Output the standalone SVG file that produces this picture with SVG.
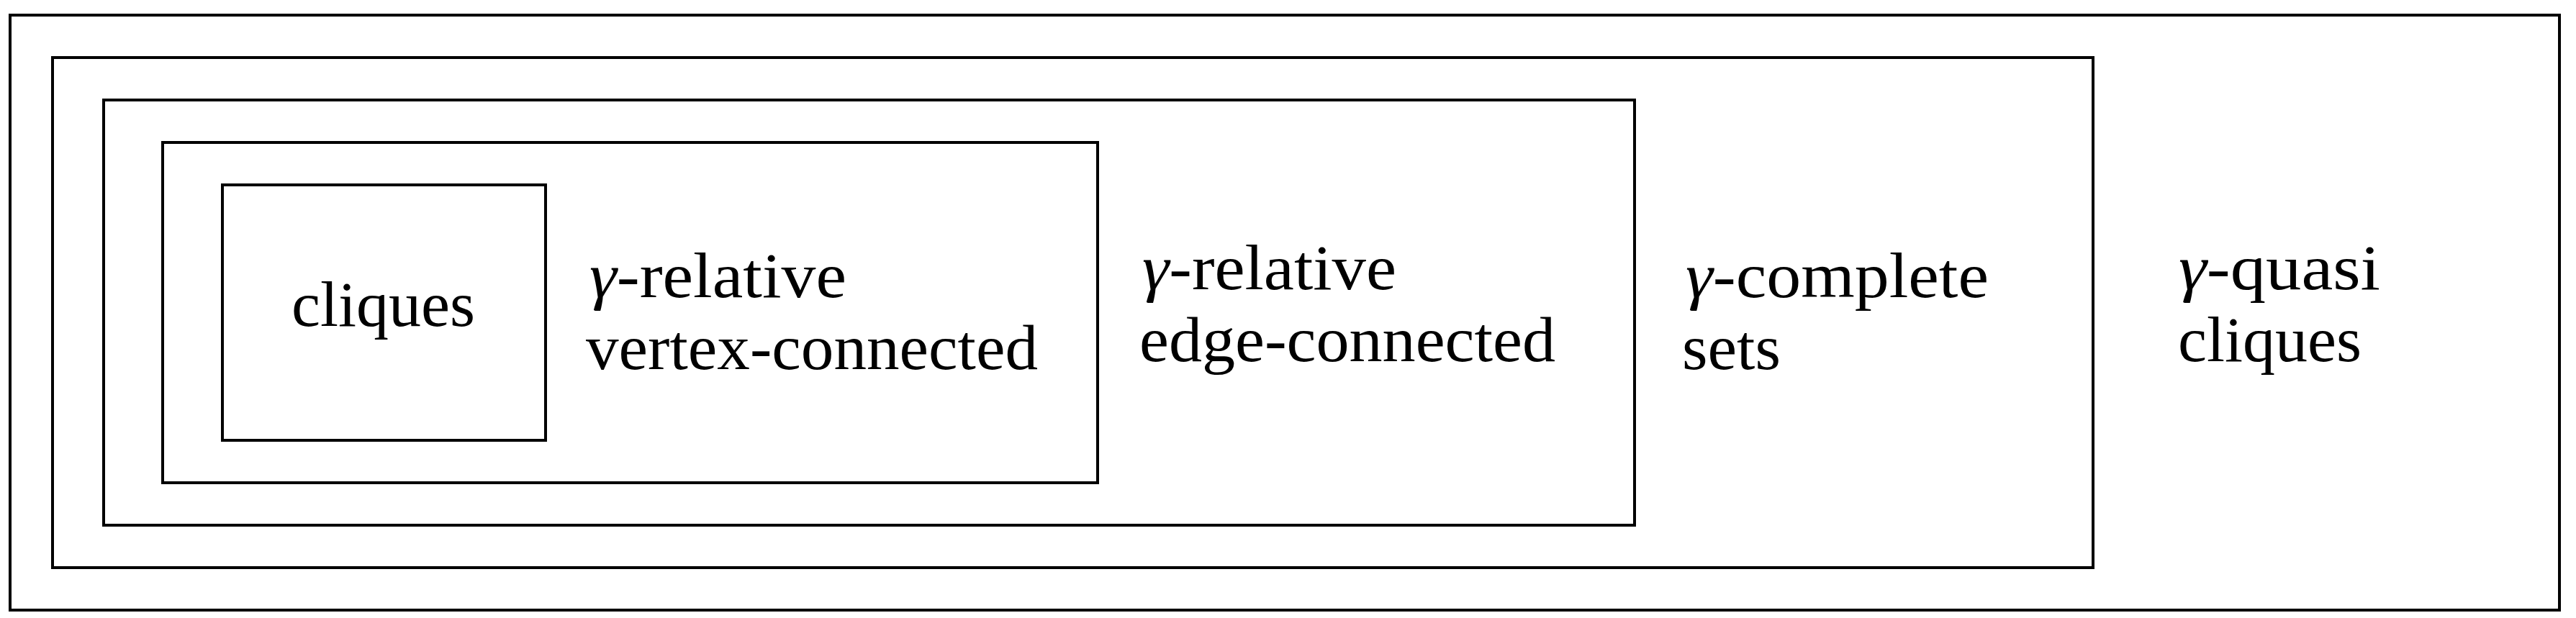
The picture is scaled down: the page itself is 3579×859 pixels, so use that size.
<svg xmlns="http://www.w3.org/2000/svg" width="3579" height="859" viewBox="0 0 3579 859">
<style>
.box{fill:none;stroke:#000;stroke-width:4}
.lbl{font-family:"Liberation Serif","Times New Roman",serif;font-size:88px;fill:#000}
.g{font-style:italic}
</style>
<rect width="3579" height="859" fill="#fff"/>
<g id="quasi-cliques">
<rect class="box" x="14" y="21" width="3542" height="827"/>
<text class="lbl" x="3027" y="402" textLength="280" lengthAdjust="spacingAndGlyphs"><tspan class="g">γ</tspan>-quasi</text>
<text class="lbl" x="3026" y="502" textLength="255" lengthAdjust="spacingAndGlyphs">cliques</text>
</g>
<g id="complete-sets">
<rect class="box" x="73" y="80" width="2835" height="709"/>
<text class="lbl" x="2342" y="413" textLength="421" lengthAdjust="spacingAndGlyphs"><tspan class="g">γ</tspan>-complete</text>
<text class="lbl" x="2337" y="513" textLength="137" lengthAdjust="spacingAndGlyphs">sets</text>
</g>
<g id="edge-connected">
<rect class="box" x="144" y="139" width="2127" height="591"/>
<text class="lbl" x="1587" y="402" textLength="353" lengthAdjust="spacingAndGlyphs"><tspan class="g">γ</tspan>-relative</text>
<text class="lbl" x="1583" y="502" textLength="578" lengthAdjust="spacingAndGlyphs">edge-connected</text>
</g>
<g id="vertex-connected">
<rect class="box" x="226" y="198" width="1299" height="473"/>
<text class="lbl" x="819" y="413" textLength="357" lengthAdjust="spacingAndGlyphs"><tspan class="g">γ</tspan>-relative</text>
<text class="lbl" x="814" y="513" textLength="628" lengthAdjust="spacingAndGlyphs">vertex-connected</text>
</g>
<g id="cliques">
<rect class="box" x="309" y="257" width="449" height="355"/>
<text class="lbl" x="405" y="453" textLength="255" lengthAdjust="spacingAndGlyphs">cliques</text>
</g>
<g id="connectors"></g>
</svg>
